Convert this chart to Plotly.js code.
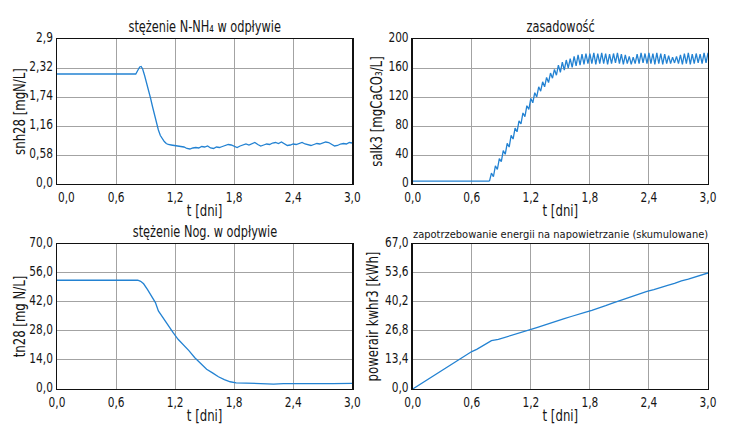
<!DOCTYPE html>
<html>
<head>
<meta charset="utf-8">
<script src="https://cdn.plot.ly/plotly-3.0.1.min.js"></script>
<style>
  html, body { margin: 0; padding: 0; background: #fff; }
  #chart { width: 738px; height: 442px; }
</style>
</head>
<body>
<div id="chart"></div>
<script>
// Time axis ticks shared by all four panels (days)
const dayTicks = [0, 0.6, 1.2, 1.8, 2.4, 3.0];
const dayTickText = ['0,0', '0,6', '1,2', '1,8', '2,4', '3,0'];

// Effluent ammonium N-NH4 [mgN/L]
const nhT = [0, 0.80, 0.82, 0.84, 0.855, 0.87, 0.89, 0.91, 0.93, 0.95, 0.97, 0.99, 1.01, 1.03, 1.05, 1.07, 1.09, 1.11, 1.13, 1.16, 1.20,
  1.23, 1.26, 1.29, 1.32, 1.35, 1.38, 1.41, 1.44, 1.47, 1.50, 1.53, 1.56, 1.59, 1.62, 1.65, 1.68, 1.71, 1.74, 1.77, 1.80,
  1.83, 1.86, 1.89, 1.92, 1.95, 1.98, 2.01, 2.04, 2.07, 2.10, 2.13, 2.16, 2.19, 2.22, 2.25, 2.28, 2.31, 2.34, 2.37, 2.40,
  2.43, 2.46, 2.49, 2.52, 2.55, 2.58, 2.61, 2.64, 2.67, 2.70, 2.73, 2.76, 2.79, 2.82, 2.85, 2.88, 2.91, 2.94, 2.97, 3.00];
const nhV = [2.2, 2.2, 2.27, 2.34, 2.35, 2.3, 2.17, 2.03, 1.87, 1.72, 1.55, 1.38, 1.22, 1.08, 0.97, 0.90, 0.85, 0.81, 0.79, 0.78, 0.77,
  0.77, 0.76, 0.74, 0.71, 0.70, 0.72, 0.73, 0.72, 0.75, 0.74, 0.76, 0.72, 0.71, 0.74, 0.73, 0.75, 0.77, 0.79, 0.78, 0.75,
  0.73, 0.76, 0.78, 0.80, 0.78, 0.81, 0.83, 0.79, 0.76, 0.78, 0.80, 0.79, 0.82, 0.83, 0.81, 0.84, 0.80, 0.77, 0.78, 0.80,
  0.79, 0.81, 0.83, 0.80, 0.78, 0.77, 0.79, 0.81, 0.80, 0.82, 0.84, 0.83, 0.79, 0.76, 0.77, 0.80, 0.81, 0.80, 0.83, 0.82];
const nhTicks = [0, 0.58, 1.16, 1.74, 2.32, 2.9];
const nhTickText = ['0,0', '0,58', '1,16', '1,74', '2,32', '2,9'];

// Alkalinity [mgCaCO3/L]: constant start, then sampled every 0.02 d from t = 0.78
const alkBaseT = [0, 0.78];
const alkBaseV = [4, 4];
const alkStart = 0.78;
const alkStep = 0.02;
const alkV = [4, 15, 10, 25, 20, 35, 31, 46, 41, 56,
  51, 67, 62, 77, 72, 87, 83, 98, 93, 108,
  103, 118, 112, 126, 120, 134, 128, 141, 134, 147,
  140, 153, 146, 158, 150, 164, 154, 168, 157, 171,
  160, 173, 161, 176, 163, 178, 164, 179, 165, 180,
  166, 180, 166, 181, 165, 180, 166, 181, 166, 180,
  165, 179, 166, 180, 167, 181, 166, 179, 165, 178,
  166, 176, 165, 175, 166, 179, 166, 181, 167, 180,
  166, 181, 166, 180, 165, 181, 166, 180, 165, 179,
  166, 177, 166, 175, 167, 176, 166, 178, 165, 180,
  166, 181, 165, 179, 166, 180, 167, 179, 166, 181,
  167, 181];
const alkTicks = [0, 40, 80, 120, 160, 200];
const alkTickText = ['0', '40', '80', '120', '160', '200'];

// Effluent total nitrogen [mg N/L]
const tnT = [0, 0.82, 0.85, 0.88, 0.92, 0.96, 1.00, 1.03, 1.08, 1.13, 1.18, 1.23, 1.28, 1.34, 1.40, 1.46, 1.52, 1.58, 1.64, 1.70,
  1.76, 1.82, 1.90, 2.00, 2.10, 2.20, 2.30, 2.40, 2.60, 2.80, 3.00];
const tnV = [52.5, 52.5, 52.0, 50.8, 48.0, 44.9, 41.7, 37.7, 34.0, 30.5, 27.2, 24.0, 21.6, 18.5, 15.1, 12.1, 9.5, 7.8, 5.9, 4.5,
  3.5, 3.0, 2.8, 2.7, 2.6, 2.4, 2.6, 2.7, 2.6, 2.6, 2.7];
const tnTicks = [0, 14, 28, 42, 56, 70];
const tnTickText = ['0,0', '14,0', '28,0', '42,0', '56,0', '70,0'];

// Cumulative aeration energy [kWh]
const pwT = [0, 0.1, 0.2, 0.3, 0.4, 0.5, 0.6, 0.65, 0.7, 0.74, 0.8, 0.87, 0.93, 0.99, 1.05, 1.12, 1.19, 1.26, 1.33, 1.40,
  1.47, 1.54, 1.61, 1.68, 1.75, 1.82, 1.89, 1.96, 2.03, 2.10, 2.17, 2.24, 2.31, 2.38, 2.45, 2.52, 2.59, 2.66, 2.73, 2.80,
  2.87, 2.94, 3.0];
const pwV = [0, 2.9, 5.9, 8.8, 11.6, 14.5, 17.3, 18.3, 19.6, 21.0, 22.3, 22.9, 23.8, 24.7, 25.6, 26.5, 27.5, 28.4, 29.4, 30.5,
  31.7, 32.5, 33.5, 34.6, 35.4, 36.3, 37.3, 38.5, 39.7, 40.8, 41.8, 42.8, 43.9, 45.1, 45.9, 47.0, 47.9, 48.8, 50.0, 50.8,
  51.9, 52.8, 53.6];
const pwTicks = [0, 13.4, 26.8, 40.2, 53.6, 67.0];
const pwTickText = ['0,0', '13,4', '26,8', '40,2', '53,6', '67,0'];

const FONT = '"DejaVu Sans Condensed", "DejaVu Sans", sans-serif';
const NARROW = 0.84;   // horizontal squeeze applied to labels after drawing
const INK = '#151515';
const LINE = { color: '#2382d2', width: 1.3 };
const energyTitle = 'zapotrzebowanie energii na napowietrzanie (skumulowane)';

const traces = [
  { x: nhT, y: nhV, xaxis: 'x', yaxis: 'y', type: 'scatter', mode: 'lines', line: LINE },
  { x: alkBaseT, y: alkBaseV, xaxis: 'x2', yaxis: 'y2', type: 'scatter', mode: 'lines', line: LINE },
  { x0: alkStart, dx: alkStep, y: alkV, xaxis: 'x2', yaxis: 'y2', type: 'scatter', mode: 'lines', line: LINE },
  { x: tnT, y: tnV, xaxis: 'x3', yaxis: 'y3', type: 'scatter', mode: 'lines', line: LINE },
  { x: pwT, y: pwV, xaxis: 'x4', yaxis: 'y4', type: 'scatter', mode: 'lines', line: LINE }
];

function xAxis(domain, anchor) {
  return {
    domain: domain, anchor: anchor, range: [0, 3],
    tickmode: 'array', tickvals: dayTicks, ticktext: dayTickText,
    showgrid: true, gridcolor: '#a3a3a3', gridwidth: 1,
    showline: true, linecolor: '#111', linewidth: 1.3, mirror: true,
    zeroline: false, ticks: '',
    tickfont: { family: FONT, size: 14, color: INK },
    title: { text: 't [dni]', font: { family: FONT, size: 15.5, color: INK }, standoff: 1 }
  };
}
function yAxis(domain, anchor, range, vals, text, title) {
  return {
    domain: domain, anchor: anchor, range: range,
    tickmode: 'array', tickvals: vals, ticktext: text,
    showgrid: true, gridcolor: '#a3a3a3', gridwidth: 1,
    showline: true, linecolor: '#111', linewidth: 1.3, mirror: true,
    zeroline: false, ticks: '', ticklabelshift: -2,
    tickfont: { family: FONT, size: 14, color: INK },
    title: { text: title, font: { family: FONT, size: 15.5, color: INK }, standoff: 0 }
  };
}

const colLeft = [0, 0.4536];
const colRight = [0.5464, 1];
const rowTop = [0.5857, 1];
const rowBottom = [0, 0.4143];

const titleFont = { family: FONT, size: 15, color: INK };

const layout = {
  width: 738, height: 442,
  margin: { l: 57, r: 30, t: 39, b: 53 },
  paper_bgcolor: '#fff', plot_bgcolor: '#fff',
  showlegend: false,
  xaxis: xAxis(colLeft, 'y'),
  yaxis: yAxis(rowTop, 'x', [0, 2.9], nhTicks, nhTickText, 'snh28 [mgN/L]'),
  xaxis2: xAxis(colRight, 'y2'),
  yaxis2: yAxis(rowTop, 'x2', [0, 200], alkTicks, alkTickText, 'salk3 [mgCaCO₃/L]'),
  xaxis3: xAxis(colLeft, 'y3'),
  yaxis3: yAxis(rowBottom, 'x3', [0, 70], tnTicks, tnTickText, 'tn28 [mg N/L]'),
  xaxis4: xAxis(colRight, 'y4'),
  yaxis4: yAxis(rowBottom, 'x4', [0, 67], pwTicks, pwTickText, 'powerair kwhr3 [kWh]'),
  annotations: [
    { text: 'stężenie N-NH₄ w odpływie', xref: 'paper', yref: 'paper', x: (colLeft[0] + colLeft[1]) / 2, y: rowTop[1],
      xanchor: 'center', yanchor: 'bottom', yshift: 1, showarrow: false, font: titleFont },
    { text: 'zasadowość', xref: 'paper', yref: 'paper', x: (colRight[0] + colRight[1]) / 2, y: rowTop[1],
      xanchor: 'center', yanchor: 'bottom', yshift: 1, showarrow: false, font: titleFont },
    { text: 'stężenie Nog. w odpływie', xref: 'paper', yref: 'paper', x: (colLeft[0] + colLeft[1]) / 2, y: rowBottom[1],
      xanchor: 'center', yanchor: 'bottom', yshift: 1, showarrow: false, font: titleFont },
    { text: energyTitle, xref: 'paper', yref: 'paper', x: (colRight[0] + colRight[1]) / 2, y: rowBottom[1],
      xanchor: 'center', yanchor: 'bottom', yshift: 1, showarrow: false, font: { family: FONT, size: 11, color: INK } }
  ]
};

Plotly.newPlot('chart', traces, layout, { displayModeBar: false, staticPlot: true }).then(function (gd) {
  // Condensed lettering: squeeze labels along their own baseline
  gd.querySelectorAll('text').forEach(function (t) {
    if (t.textContent === energyTitle) return;
    const w = t.getComputedTextLength();
    if (w > 0) {
      t.setAttribute('textLength', (w * NARROW).toFixed(2));
      t.setAttribute('lengthAdjust', 'spacingAndGlyphs');
    }
  });
  // First day label starts at the left frame edge
  gd.querySelectorAll('.xtick text').forEach(function (t) {
    if (t.textContent === '0,0') {
      t.setAttribute('text-anchor', 'start');
      t.setAttribute('x', String(parseFloat(t.getAttribute('x') || 0) + 1));
    }
  });
  // Bring the vertical axis titles closer to the narrowed tick labels
  [['.g-ytitle', 5], ['.g-y3title', 5], ['.g-y2title', 2], ['.g-y4title', 2]].forEach(function (p) {
    const g = gd.querySelector(p[0]);
    if (g) {
      const prev = g.getAttribute('transform') || '';
      g.setAttribute('transform', prev + ' translate(' + p[1] + ',0)');
    }
  });
  // Horizontal axis titles sit a little higher
  ['.g-xtitle', '.g-x2title', '.g-x3title', '.g-x4title'].forEach(function (sel) {
    const g = gd.querySelector(sel);
    if (g) {
      const prev = g.getAttribute('transform') || '';
      g.setAttribute('transform', prev + ' translate(0,-3)');
    }
  });
});
</script>
</body>
</html>
